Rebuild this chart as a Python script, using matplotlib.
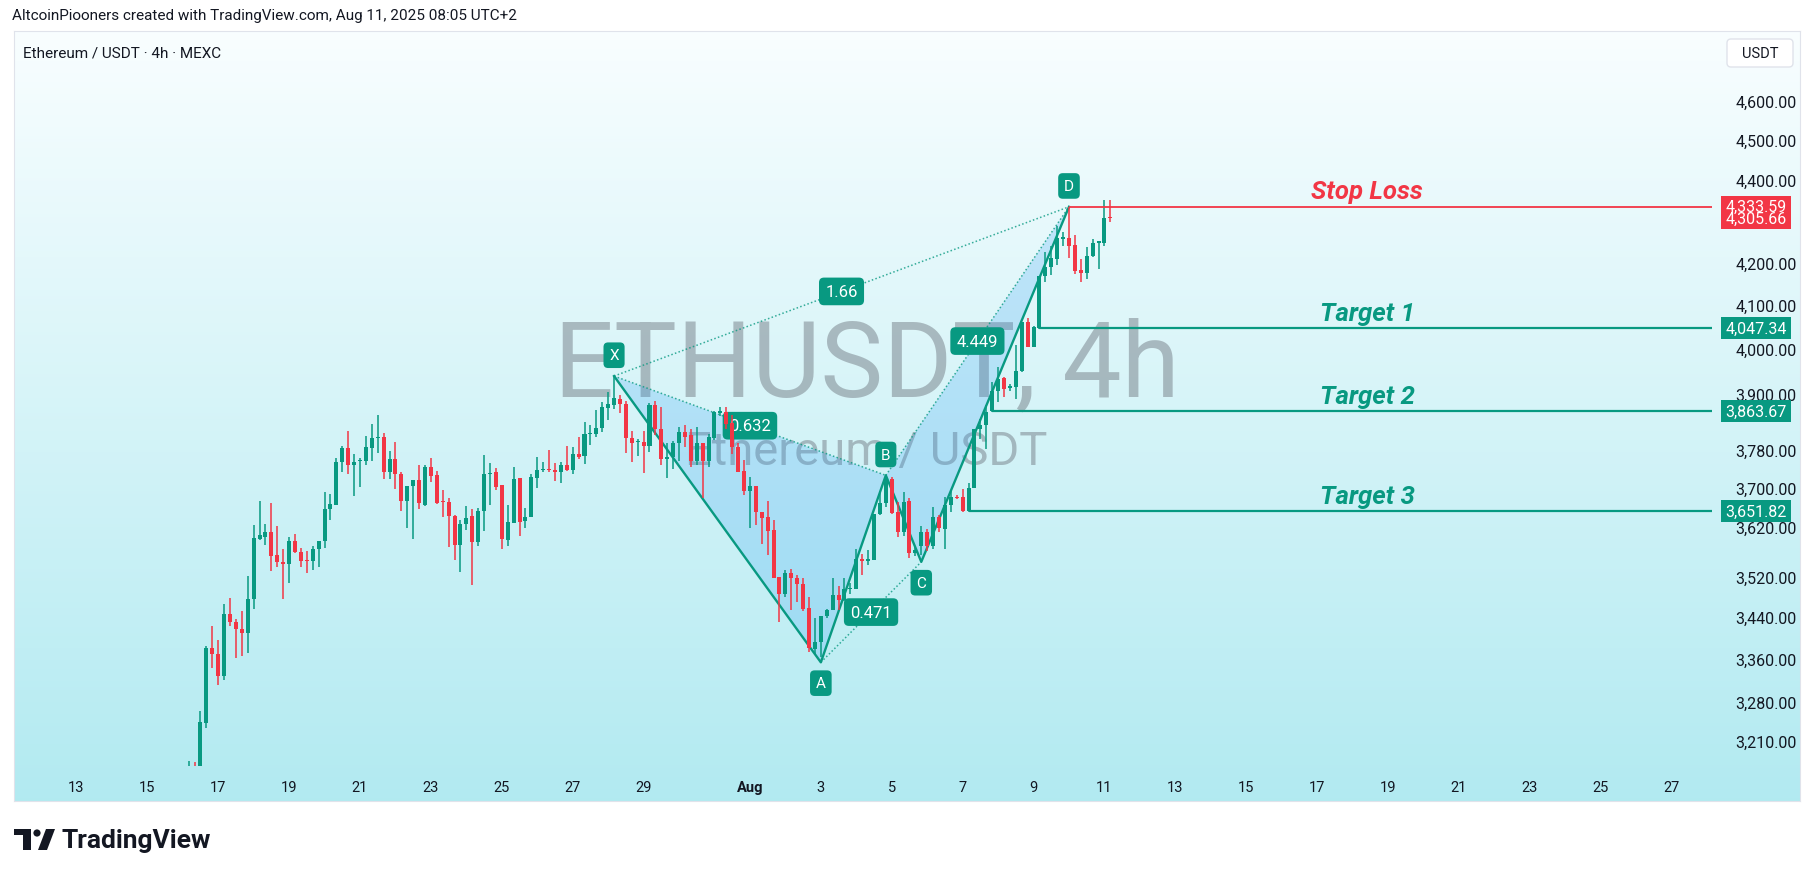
import matplotlib
matplotlib.use('Agg')
import matplotlib.pyplot as plt
import matplotlib.dates as mdates
from matplotlib.patches import FancyBboxPatch, Rectangle, Polygon, Circle
from matplotlib.ticker import NullLocator
import numpy as np
import pandas as pd

plt.rcParams['font.family'] = ['Roboto', 'DejaVu Sans']

# ETH/USDT 4h candles, first one opens Jul 16 04:00
opens = [3130, 3160, 3145, 3241, 3382, 3370, 3328, 3447, 3431, 3418,
         3409, 3476, 3594, 3599, 3609, 3563, 3549, 3544, 3591, 3569,
         3552, 3550, 3575, 3590, 3656, 3665, 3754, 3784, 3747, 3756,
         3757, 3784, 3806, 3807, 3734, 3761, 3729, 3672, 3703, 3717,
         3665, 3744, 3727, 3671, 3671, 3641, 3583, 3625, 3641, 3589,
         3651, 3729, 3732, 3706, 3592, 3628, 3721, 3631, 3640, 3721,
         3738, 3740, 3738, 3733, 3747, 3738, 3771, 3766, 3813, 3814,
         3827, 3870, 3876, 3890, 3879, 3805, 3796, 3797, 3789, 3876,
         3825, 3760, 3764, 3794, 3818, 3811, 3756, 3795, 3757, 3806,
         3860, 3861, 3838, 3786, 3735, 3694, 3703, 3649, 3640, 3614,
         3518, 3485, 3527, 3517, 3506, 3458, 3380, 3392, 3443, 3454,
         3484, 3473, 3495, 3495, 3555, 3550, 3553, 3645, 3669, 3719,
         3650, 3610, 3672, 3567, 3580, 3610, 3580, 3639, 3616, 3664,
         3681, 3680, 3651.82, 3699, 3825, 3832, 3863.67, 3906, 3936, 3914,
         3916, 3951, 4061, 4006, 4047.34, 4168, 4189, 4207, 4256, 4258,
         4241, 4182, 4175, 4215, 4247, 4246, 4309]
highs = [3173, 3171, 3264, 3385, 3423, 3397, 3465, 3478, 3437, 3452,
         3521, 3624, 3673, 3626, 3669, 3621, 3575, 3598, 3606, 3576,
         3571, 3580, 3591, 3692, 3688, 3763, 3788, 3821, 3771, 3763,
         3809, 3835, 3855, 3816, 3778, 3797, 3732, 3704, 3717, 3748,
         3747, 3763, 3736, 3696, 3679, 3643, 3633, 3663, 3657, 3658,
         3769, 3752, 3742, 3706, 3665, 3743, 3721, 3659, 3729, 3764,
         3755, 3779, 3753, 3755, 3788, 3785, 3808, 3839, 3833, 3866,
         3883, 3905, 3940, 3899, 3886, 3821, 3803, 3821, 3881, 3886,
         3873, 3795, 3799, 3829, 3833, 3825, 3829, 3795, 3814, 3864,
         3873, 3872, 3855, 3794, 3758, 3722, 3704, 3649, 3673, 3633,
         3518, 3532, 3535, 3523, 3516, 3479, 3439, 3443, 3457, 3516,
         3502, 3516, 3508, 3574, 3564, 3573, 3646, 3694, 3726, 3722,
         3670, 3691, 3679, 3580, 3622, 3616, 3660, 3643, 3680, 3693,
         3685, 3697, 3710, 3825, 3846, 3876, 3927, 3960, 3938, 3922,
         4009, 4062, 4070, 4053, 4168, 4224, 4240, 4288, 4272, 4333.59,
         4266, 4207, 4236, 4256, 4252, 4349, 4349]
lows = [3115, 3135, 3140, 3233, 3343, 3312, 3321, 3424, 3362, 3366,
        3372, 3457, 3592, 3582, 3531, 3538, 3476, 3507, 3566, 3538,
        3526, 3532, 3538, 3577, 3633, 3665, 3732, 3729, 3682, 3702,
        3747, 3757, 3773, 3719, 3719, 3698, 3653, 3617, 3594, 3656,
        3662, 3713, 3667, 3639, 3578, 3552, 3529, 3613, 3503, 3580,
        3612, 3665, 3695, 3574, 3580, 3628, 3600, 3617, 3640, 3699,
        3732, 3734, 3715, 3709, 3736, 3729, 3761, 3750, 3790, 3808,
        3818, 3843, 3868, 3859, 3773, 3754, 3767, 3731, 3775, 3812,
        3747, 3720, 3740, 3756, 3785, 3743, 3747, 3678, 3743, 3800,
        3852, 3824, 3771, 3733, 3685, 3617, 3624, 3585, 3563, 3516,
        3431, 3479, 3455, 3470, 3452, 3374, 3368, 3365, 3438, 3454,
        3454, 3471, 3486, 3495, 3522, 3542, 3553, 3644, 3660, 3646,
        3599, 3602, 3557, 3560, 3562, 3570, 3575, 3609, 3575, 3650,
        3676, 3650, 3650, 3699, 3803, 3782, 3861, 3883, 3894, 3908,
        3890, 3948, 4006, 4004, 4045, 4154, 4170, 4193, 4240, 4210,
        4173, 4154, 4160, 4213, 4185, 4240, 4296]
closes = [3160, 3145, 3244, 3382, 3369, 3328, 3447, 3430, 3418, 3409,
          3476, 3596, 3604, 3609, 3560, 3548, 3544, 3591, 3568, 3551,
          3550, 3575, 3591, 3657, 3667, 3755, 3784, 3747, 3755, 3758,
          3786, 3806, 3807, 3734, 3761, 3728, 3673, 3704, 3717, 3668,
          3744, 3725, 3669, 3670, 3641, 3583, 3626, 3638, 3589, 3652,
          3729, 3731, 3702, 3594, 3630, 3719, 3630, 3640, 3723, 3738,
          3740, 3737, 3733, 3747, 3738, 3771, 3765, 3814, 3816, 3827,
          3871, 3879, 3892, 3878, 3805, 3794, 3798, 3789, 3876, 3824,
          3760, 3765, 3794, 3818, 3808, 3756, 3795, 3757, 3807, 3862,
          3863, 3836, 3786, 3734, 3694, 3703, 3650, 3638, 3612, 3516,
          3485, 3527, 3517, 3506, 3457, 3381, 3393, 3443, 3454, 3484,
          3473, 3496, 3497, 3555, 3550, 3555, 3646, 3669, 3719, 3648,
          3610, 3670, 3567, 3572, 3610, 3580, 3639, 3617, 3664, 3681,
          3679, 3652, 3699, 3825, 3832, 3861, 3906, 3934, 3912, 3917,
          3951, 4062, 4006, 4051, 4168, 4189, 4210, 4258, 4260, 4240,
          4181, 4175, 4215, 4246, 4250, 4306, 4305.66]

# XABCD pattern (candle index, price) and leg ratios
pattern_names = ['X', 'A', 'B', 'C', 'D']
pattern_idx = [72, 107, 118, 124, 149]
pattern_price = [3940, 3354, 3726, 3549, 4333.59]
ratio_labels = ['0.632', '0.471', '4.449', '1.66']   # XB, AC, BD, XD

# trade levels: (text, price, start candle)
level_names = ['Stop Loss', 'Target 1', 'Target 2', 'Target 3']
level_prices = [4333.59, 4047.34, 3863.67, 3651.82]
level_start = [149, 144, 136, 132]
last_price = 4305.66

price_ticks = [3210, 3280, 3360, 3440, 3520, 3620, 3700, 3780, 3900,
               4000, 4100, 4200, 4400, 4500, 4600]
date_ticks = ['2025-07-13', '2025-07-15', '2025-07-17', '2025-07-19', '2025-07-21',
              '2025-07-23', '2025-07-25', '2025-07-27', '2025-07-29', '2025-08-01',
              '2025-08-03', '2025-08-05', '2025-08-07', '2025-08-09', '2025-08-11',
              '2025-08-13', '2025-08-15', '2025-08-17', '2025-08-19', '2025-08-21',
              '2025-08-23', '2025-08-25', '2025-08-27']
date_labels = ['13', '15', '17', '19', '21', '23', '25', '27', '29', 'Aug',
               '3', '5', '7', '9', '11', '13', '15', '17', '19', '21', '23', '25', '27']

GREEN = '#089981'
RED = '#f23645'
TXT = '#131722'

W, H = 1814, 878
fig = plt.figure(figsize=(W / 100, H / 100), dpi=100)
fig.patch.set_facecolor('white')

# panel background gradient
bg = fig.add_axes([14 / W, 1 - 802 / H, (1800 - 14) / W, (802 - 32) / H])
g = np.linspace(0, 1, 256)[:, None, None]
top_c = np.array([0.975, 0.995, 1.0])
bot_c = np.array([0.698, 0.918, 0.945])
bg.imshow(top_c + (bot_c - top_c) * g, aspect='auto', extent=[0, 1, 0, 1])
bg.set_xticks([]); bg.set_yticks([])
for s in bg.spines.values():
    s.set_color('#e0e3eb')

ax = fig.add_axes([14 / W, 1 - 767 / H, (1712 - 14) / W, (767 - 32) / H])
ax.patch.set_alpha(0)
for s in ax.spines.values():
    s.set_visible(False)
ax.set_yscale('log')
ax.set_ylim(3164, 4784)
ax.set_xlim(mdates.date2num(pd.Timestamp('2025-07-11 05:46')),
            mdates.date2num(pd.Timestamp('2025-08-28 03:19')))

times = pd.date_range('2025-07-16 04:00', periods=len(opens), freq='4h')
x = mdates.date2num(times)
o, hi, lo, c = map(np.array, (opens, highs, lows, closes))
cols = np.where(c >= o, GREEN, RED)

# candles
ax.vlines(x, lo, hi, colors=cols, lw=1.1, zorder=3)
ax.bar(x, np.maximum(np.abs(c - o), 1.6), bottom=np.minimum(o, c),
       width=4 / 24 * 0.68, color=cols, linewidth=0, zorder=3)

# watermark
ax.text(0.502, 0.543, 'ETHUSDT, 4h', transform=ax.transAxes, ha='center', va='center',
        fontsize=76, color='#6f7780', alpha=0.48, zorder=0.5)
ax.text(0.502, 0.428, 'Ethereum / USDT', transform=ax.transAxes, ha='center', va='center',
        fontsize=34, color='#6f7780', alpha=0.48, zorder=0.5)

# harmonic pattern (drawn under the candles, like TradingView)
px = x[pattern_idx]
pp = np.array(pattern_price)
ax.fill(px[[0, 1, 2]], pp[[0, 1, 2]], color='#2196f3', alpha=0.2, lw=0, zorder=2)
ax.fill(px[[2, 3, 4]], pp[[2, 3, 4]], color='#2196f3', alpha=0.2, lw=0, zorder=2)
ax.plot(px, pp, color=GREEN, lw=1.7, zorder=2.6)
dotted = [(0, 2), (1, 3), (2, 4), (0, 4)]
for (a, b), lab in zip(dotted, ratio_labels):
    ax.plot(px[[a, b]], pp[[a, b]], color=GREEN, lw=1.1, ls=(0, (1, 1.5)), alpha=0.8, zorder=2.5)
    ax.text((px[a] + px[b]) / 2, np.sqrt(pp[a] * pp[b]), lab, ha='center', va='center',
            fontsize=12, color='white', zorder=2.7,
            bbox=dict(boxstyle='round,pad=0.38,rounding_size=0.3', fc=GREEN, ec='none'))
for k, name in enumerate(pattern_names):
    dy = -15 if name in ('A', 'C') else 15
    ax.annotate(name, (px[k], pp[k]), xytext=(0, dy), textcoords='offset points',
                ha='center', va='center', fontsize=11, color='white', zorder=2.7,
                bbox=dict(boxstyle='round,pad=0.38,rounding_size=0.3', fc=GREEN, ec='none'))

# stop / targets
xr = ax.get_xlim()[1]
label_x = mdates.date2num(pd.Timestamp('2025-08-18 10:00'))
for name, p, si in zip(level_names, level_prices, level_start):
    lc = RED if name == 'Stop Loss' else GREEN
    ax.plot([x[si], xr], [p, p], color=lc, lw=1.6 if lc == GREEN else 1.3, zorder=4,
            solid_capstyle='butt')
    ax.annotate(name, (label_x, p), xytext=(0, 6), textcoords='offset points',
                ha='center', va='baseline', fontsize=18.5, fontweight='bold',
                fontstyle='italic', color=lc, zorder=6)

# axes ticks
ax.yaxis.tick_right()
ax.set_yticks(price_ticks)
ax.set_yticklabels([f'{v:,.2f}' for v in price_ticks])
ax.yaxis.set_minor_locator(NullLocator())
ax.tick_params(axis='y', length=0, pad=17, labelsize=11.5, labelcolor=TXT)
ax.set_xticks(mdates.date2num(pd.to_datetime(date_ticks)))
ax.set_xticklabels(date_labels)
ax.tick_params(axis='x', length=0, pad=10, labelsize=10.5, labelcolor=TXT)
for t in ax.get_xticklabels():
    if t.get_text() == 'Aug':
        t.set_fontweight('bold')

# overlay in pixel coordinates for axis badges, header and logo
ov = fig.add_axes([0, 0, 1, 1], zorder=10)
ov.set_xlim(0, W); ov.set_ylim(H, 0); ov.axis('off')
fig.canvas.draw()


def ypix(price):
    return H - ax.transData.transform((x[0], price))[1]


badges = [(4333.59, RED), (last_price, RED), (4047.34, GREEN), (3863.67, GREEN), (3651.82, GREEN)]
for p, bc in badges:
    yy = ypix(p)
    ov.add_patch(Rectangle((1721, yy - 11), 70, 22, fc=bc, ec='none'))
    ov.text(1756, yy, f'{p:,.2f}', ha='center', va='center', fontsize=11.5, color='white')

ov.text(12, 16, 'AltcoinPiooners created with TradingView.com, Aug 11, 2025 08:05 UTC+2',
        ha='left', va='center', fontsize=11, color=TXT)
ov.text(23, 53, 'Ethereum / USDT · 4h · MEXC', ha='left', va='center', fontsize=11, color=TXT)
ov.add_patch(FancyBboxPatch((1727, 40), 66, 28, boxstyle='round,pad=0,rounding_size=4',
                            fc='white', ec='#e0e3eb', lw=1))
ov.text(1760, 54, 'USDT', ha='center', va='center', fontsize=10.5, color=TXT)

# TradingView logo
ov.add_patch(Rectangle((14, 830), 17, 6, fc=TXT, ec='none'))
ov.add_patch(Rectangle((23, 830), 8, 21, fc=TXT, ec='none'))
ov.add_patch(Circle((37, 834), 3.6, fc=TXT, ec='none'))
ov.add_patch(Polygon([(38, 851), (46, 830), (55, 830), (47, 851)], closed=True, fc=TXT, ec='none'))
ov.text(61, 841, 'TradingView', ha='left', va='center', fontsize=19, fontweight='bold', color=TXT)

fig.savefig('out.png', dpi=100)
